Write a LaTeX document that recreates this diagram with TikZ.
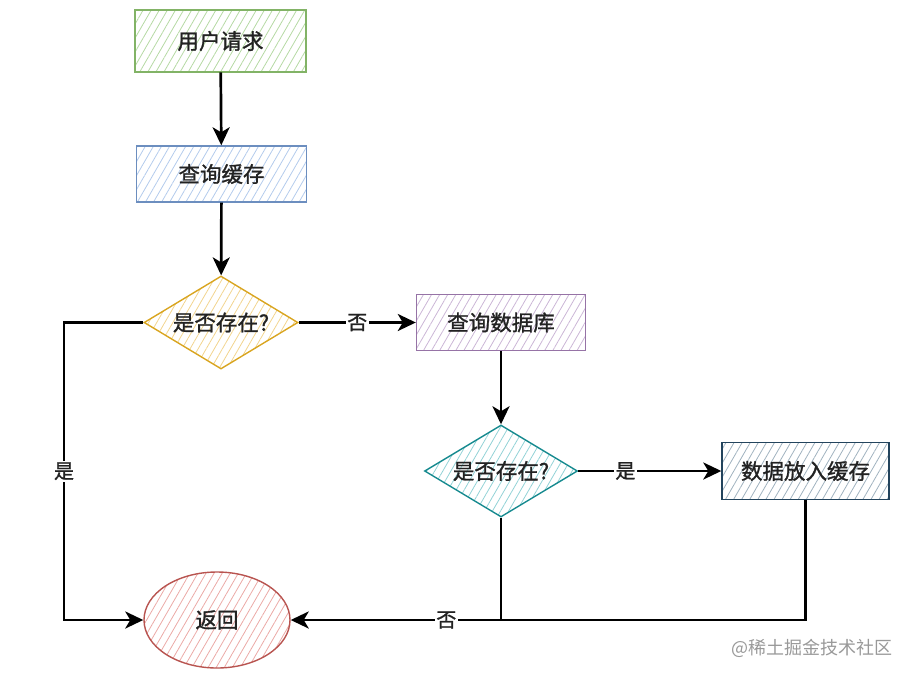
\documentclass[tikz,border=0pt]{standalone}
\usepackage{fontspec}
\setmainfont{Noto Sans CJK SC}[FakeBold=1.2]
\newfontfamily\wmfont{Noto Sans CJK SC}
\usetikzlibrary{shapes.geometric,arrows.meta,patterns.meta}
\definecolor{gB}{HTML}{82B366}\definecolor{gF}{HTML}{B5D9A3}
\definecolor{bB}{HTML}{6C8EBF}\definecolor{bF}{HTML}{B3CBEC}
\definecolor{yB}{HTML}{D9A520}\definecolor{yF}{HTML}{F2D48E}
\definecolor{pB}{HTML}{9673A6}\definecolor{pF}{HTML}{CBB6D6}
\definecolor{tB}{HTML}{168A8F}\definecolor{tF}{HTML}{92D2D6}
\definecolor{dB}{HTML}{23445D}\definecolor{dF}{HTML}{A0B2BF}
\definecolor{rB}{HTML}{B85450}\definecolor{rF}{HTML}{EBA9A6}
\definecolor{txt}{HTML}{222222}
\tikzset{
  shp/.style={line width=1.4pt, inner sep=0pt, text=txt, font=\fontsize{21.5}{23}\selectfont},
  hatch/.style={pattern={Lines[angle=60,distance=7pt,line width=0.8pt]}, pattern color=#1},
  boxnode/.style={shp, rectangle, minimum width=170pt, minimum height=56pt},
  dia/.style={shp, diamond, aspect=1.7, minimum width=154pt, minimum height=93pt},
  arr/.style={line width=2.7pt, -{Stealth[length=18pt,width=17pt,inset=5pt]}},
  plain/.style={line width=2.7pt},
  lbl/.style={fill=white, inner sep=1.5pt, text=txt, font=\fontsize{20}{22}\selectfont}
}
\begin{document}
\begin{tikzpicture}[x=1pt,y=-1pt]
\useasboundingbox (0,0) rectangle (913,678);
\node[boxnode, draw=gB, hatch=gF, minimum width=171pt, minimum height=62pt] (req) at (220.5,41) {用户请求};
\node[boxnode, draw=bB, hatch=bF] (cache) at (221.5,174) {查询缓存};
\node[dia, draw=yB, hatch=yF] (d1) at (221,322.5) {是否存在?};
\node[boxnode, draw=pB, hatch=pF, minimum width=169pt] (db) at (501,322.5) {查询数据库};
\node[dia, draw=tB, hatch=tF, minimum width=153pt, minimum height=92pt] (d2) at (501,471) {是否存在?};
\node[boxnode, draw=dB, hatch=dF, minimum width=167pt, minimum height=57pt] (put) at (805.5,471) {数据放入缓存};
\node[shp, ellipse, draw=rB, hatch=rF, minimum width=146pt, minimum height=96pt] (ret) at (217,620) {返回};
\coordinate (c1) at (64,322.5);
\coordinate (j1) at (d2.south |- ret.east);
\draw[arr] (req) -- (cache);
\draw[arr] (cache) -- (d1);
\draw[arr] (d1) -- node[lbl]{否} (db);
\draw[arr] (db) -- (d2);
\draw[arr] (d2) -- node[lbl, pos=0.33]{是} (put);
\draw[arr] (d1.west) -- (c1) |- node[lbl, pos=0.25]{是} (ret.west);
\draw[plain] (put.south) |- (j1);
\draw[arr] (d2.south) |- node[lbl, pos=0.63]{否} (ret.east);
\node[text=gray!80, font=\wmfont\fontsize{18}{20}\selectfont] (wm) at (812,648) {@稀土掘金技术社区};
\end{tikzpicture}
\end{document}
